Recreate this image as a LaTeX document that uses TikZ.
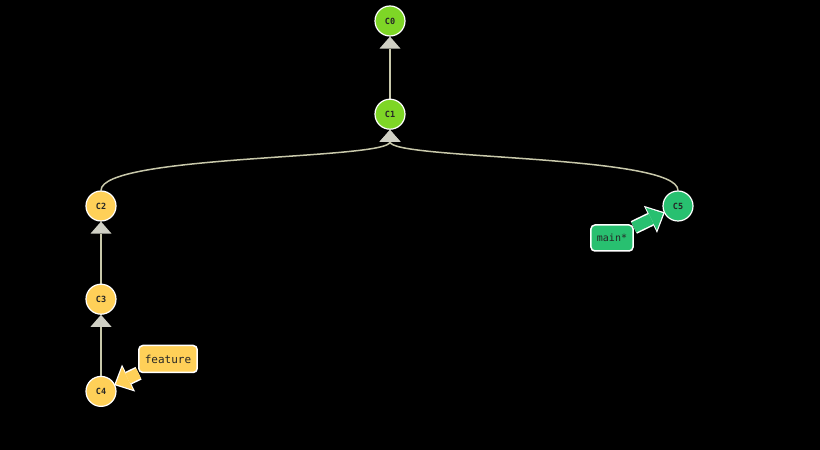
\documentclass[tikz,border=0pt]{standalone}
\usepackage{fontspec}
\setmonofont{DejaVu Sans Mono}
\usetikzlibrary{arrows.meta,positioning}
\definecolor{cgreen}{RGB}{126,214,38}
\definecolor{cyellow}{RGB}{255,208,88}
\definecolor{cteal}{RGB}{40,192,112}
\definecolor{cedge}{RGB}{200,200,170}
\definecolor{ctip}{RGB}{208,208,196}
\pgfdeclarelayer{bg}
\pgfdeclarelayer{edges}
\pgfsetlayers{bg,edges,main}
\tikzset{
  commit/.style={circle, draw=white, line width=1.2pt, minimum size=30pt, inner sep=0pt, font=\ttfamily\bfseries\fontsize{8.5}{8.5}\selectfont, text=black!85},
  branch/.style={draw=white, line width=1.5pt, rounded corners=4pt, minimum height=27pt, inner xsep=6pt, font=\ttfamily\fontsize{11}{11}\selectfont, text=black!85},
  parent/.style={draw=cedge, line width=1.5pt, -{Triangle[width=21pt,length=12pt,color=ctip,line width=0pt]}},
  refout/.style={draw=white, line width=14pt, shorten >=-1pt, -{Triangle[width=30pt,length=16pt,line width=0pt]}},
  refin/.style={line width=11pt, shorten >=1pt, -{Triangle[width=25pt,length=13pt,line width=0pt]}}
}
\begin{document}
\begin{tikzpicture}[x=1pt, y=1pt]
    % Background
    \begin{pgfonlayer}{bg}
        \fill[black] (0,0) rectangle (820,450);
    \end{pgfonlayer}

    % Commits
    \node[commit, fill=cgreen] (C0) at (390,429) {C0};
    \node[commit, fill=cgreen, below=62pt of C0] (C1) {C1};
    \node[commit, fill=cyellow] (C2) at (101,244) {C2};
    \node[commit, fill=cyellow, below=62pt of C2] (C3) {C3};
    \node[commit, fill=cyellow, below=61pt of C3] (C4) {C4};
    \node[commit, fill=cteal] (C5) at (678,244) {C5};

    % Branches
    \node[branch, fill=cyellow] (feature) at (168,91) {feature};
    \node[branch, fill=cteal, minimum height=26pt, font=\ttfamily\fontsize{10}{10}\selectfont] (main) at (612,212) {main*};

    \begin{pgfonlayer}{edges}
        % Parent links
        \draw[parent] (C1) -- (C0);
        \draw[parent] (C2.north) .. controls +(0,36) and +(0,-30) .. (C1.south);
        \draw[parent] (C5.north) .. controls +(0,36) and +(0,-30) .. (C1.south);
        \draw[parent] (C3) -- (C2);
        \draw[parent] (C4) -- (C3);

        % Branch pointers
        \draw[refout] (feature) -- (C4);
        \draw[refin, cyellow] (feature) -- (C4);
        \draw[refout] (main) -- (C5);
        \draw[refin, cteal] (main) -- (C5);
    \end{pgfonlayer}
\end{tikzpicture}
\end{document}
